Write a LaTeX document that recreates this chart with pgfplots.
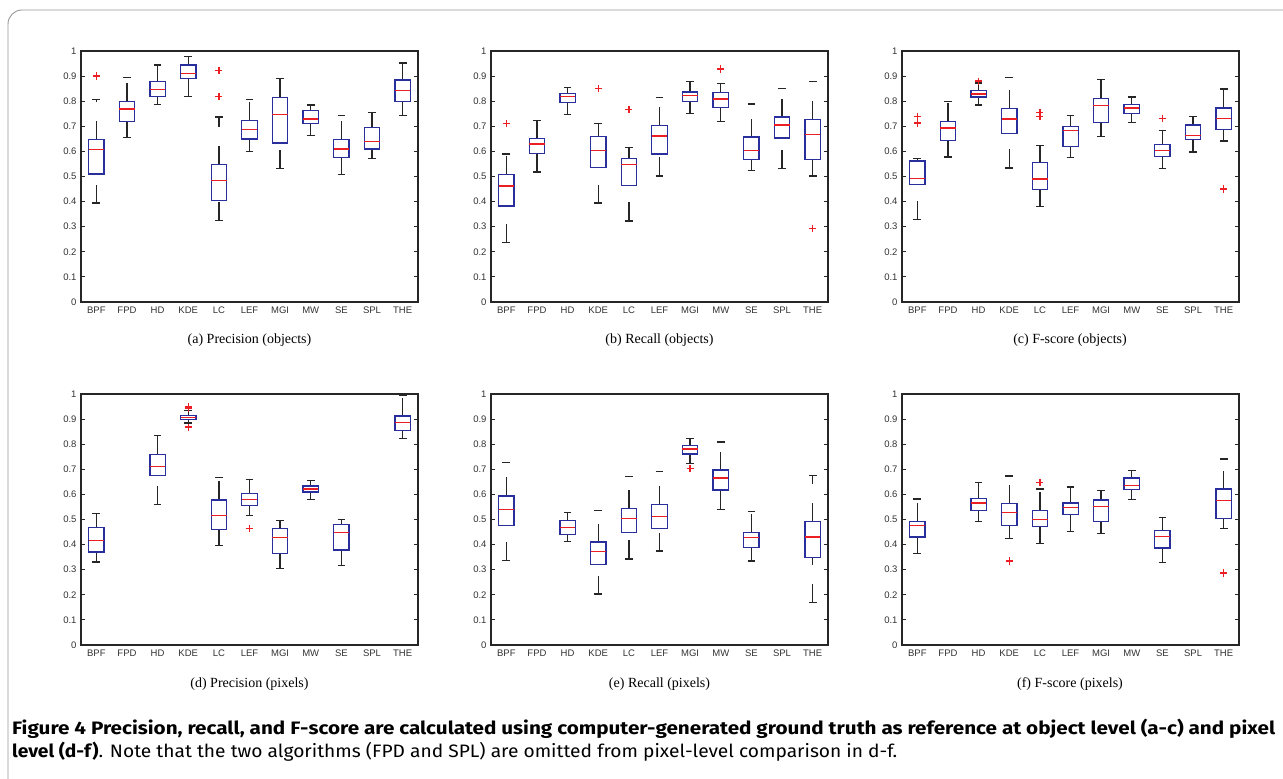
\documentclass[border=0pt]{standalone}
\usepackage{fontspec}
\setmainfont{Liberation Serif}
\newfontfamily\helv{Liberation Sans}
\newfontfamily\capfont{Fira Sans}
\usepackage{graphicx}
\usepackage{pgfplots}
\pgfplotsset{compat=1.18}
\usepgfplotslibrary{statistics}

\definecolor{boxblue}{RGB}{40,46,155}
\definecolor{medred}{RGB}{235,30,35}
\definecolor{framegray}{RGB}{150,150,150}
\definecolor{ticktext}{RGB}{50,50,50}

\pgfplotsset{
  panel/.style={
    scale only axis, width=337pt, height=251pt,
    anchor=south west,
    xmin=0.5, xmax=11.5, ymin=0, ymax=1,
    xtick={1,2,3,4,5,6,7,8,9,10,11},
    xticklabels={BPF,FPD,HD,KDE,LC,LEF,MGI,MW,SE,SPL,THE},
    ytick={0,0.1,0.2,0.3,0.4,0.5,0.6,0.7,0.8,0.9,1},
    yticklabels={0,0.1,0.2,0.3,0.4,0.5,0.6,0.7,0.8,0.9,1},
    axis line style={line width=1.6pt, black!85},
    tick align=inside,
    major tick length=4pt,
    ytick style={line width=1pt, black!85},
    xtick style={draw=none},
    tick label style={font=\helv\fontsize{9.5}{10}\selectfont, text=ticktext},
    yticklabel style={xshift=-1pt},
    xticklabel style={yshift=-1pt},
  },
  mw/.style={
    medred, mark=+, mark size=3.6pt, line width=1.4pt,
    boxplot/draw direction=y,
    boxplot/box extend=0.5,
    boxplot/every box/.style={draw=boxblue, line width=1.3pt},
    boxplot/every median/.style={draw=medred, line width=1.3pt},
    boxplot/draw/lower whisker/.code={%
      \draw[black!85, line width=1.3pt, dash pattern=on 18.5pt off 19pt]
        (boxplot box cs:\pgfplotsboxplotvalue{lower whisker},0.5) --
        (boxplot box cs:\pgfplotsboxplotvalue{lower quartile},0.5);
      \draw[black!85, line width=1.3pt]
        (boxplot box cs:\pgfplotsboxplotvalue{lower whisker},0.25) --
        (boxplot box cs:\pgfplotsboxplotvalue{lower whisker},0.75);
    },
    boxplot/draw/upper whisker/.code={%
      \draw[black!85, line width=1.3pt, dash pattern=on 18.5pt off 19pt]
        (boxplot box cs:\pgfplotsboxplotvalue{upper quartile},0.5) --
        (boxplot box cs:\pgfplotsboxplotvalue{upper whisker},0.5);
      \draw[black!85, line width=1.3pt]
        (boxplot box cs:\pgfplotsboxplotvalue{upper whisker},0.25) --
        (boxplot box cs:\pgfplotsboxplotvalue{upper whisker},0.75);
    },
  },
}

% position, lower whisker, lower quartile, median, upper quartile, upper whisker, outliers
\newcommand{\bp}[7]{%
  \addplot[mw, boxplot prepared={draw position=#1, lower whisker=#2,
    lower quartile=#3, median=#4, upper quartile=#5, upper whisker=#6}]
    coordinates {#7};}

\newsavebox\capA
\newsavebox\capB
\newlength\capw
\newlength\capwb

\begin{document}
\sbox\capA{\capfont\fontsize{18}{22}\selectfont\bfseries Figure 4 Precision, recall, and F-score are calculated using computer-generated ground truth as reference at object level (a-c) and pixel}%
\sbox\capB{\capfont\fontsize{18}{22}\selectfont{\bfseries level (d-f)}. Note that the two algorithms (FPD and SPL) are omitted from pixel-level comparison in d-f.}%
\setlength\capw{\wd\capA}%
\setlength\capwb{\wd\capB}%
\pgfmathsetmacro\capscale{1263pt/\capw}%
\pgfmathsetmacro\capscaleb{885pt/\capwb}%
\begin{tikzpicture}
\path[use as bounding box] (0,0) rectangle (1283pt,779pt);
\draw[framegray, line width=0.9pt] (8pt,-2pt) -- (8pt,755pt)
  arc[start angle=180, end angle=90, radius=14pt] -- (1290pt,769pt);

% (a) Precision (objects)
\begin{axis}[panel, at={(81pt,477pt)}]
\bp{1}{0.394}{0.510}{0.608}{0.646}{0.806}{(0,0.900)}
\bp{2}{0.656}{0.718}{0.769}{0.798}{0.895}{}
\bp{3}{0.786}{0.819}{0.847}{0.879}{0.944}{}
\bp{4}{0.819}{0.891}{0.910}{0.944}{0.979}{}
\bp{5}{0.325}{0.405}{0.485}{0.548}{0.737}{(0,0.923) (0,0.819)}
\bp{6}{0.600}{0.649}{0.687}{0.722}{0.806}{}
\bp{7}{0.533}{0.633}{0.748}{0.814}{0.891}{}
\bp{8}{0.663}{0.712}{0.729}{0.762}{0.785}{}
\bp{9}{0.509}{0.576}{0.610}{0.648}{0.744}{}
\bp{10}{0.572}{0.610}{0.640}{0.696}{0.756}{}
\bp{11}{0.744}{0.799}{0.842}{0.884}{0.952}{}
\end{axis}

% (b) Recall (objects)
\begin{axis}[panel, at={(491pt,477pt)}]
\bp{1}{0.236}{0.382}{0.462}{0.507}{0.590}{(0,0.710)}
\bp{2}{0.518}{0.591}{0.630}{0.651}{0.724}{}
\bp{3}{0.748}{0.795}{0.818}{0.830}{0.855}{}
\bp{4}{0.394}{0.537}{0.603}{0.660}{0.710}{(0,0.851)}
\bp{5}{0.323}{0.465}{0.547}{0.572}{0.616}{(0,0.766)}
\bp{6}{0.502}{0.590}{0.661}{0.704}{0.815}{}
\bp{7}{0.752}{0.799}{0.822}{0.837}{0.879}{}
\bp{8}{0.720}{0.774}{0.809}{0.834}{0.870}{(0,0.928)}
\bp{9}{0.525}{0.568}{0.603}{0.657}{0.789}{}
\bp{10}{0.533}{0.653}{0.705}{0.737}{0.851}{}
\bp{11}{0.502}{0.567}{0.668}{0.726}{0.879}{(0,0.293)}
\end{axis}

% (c) F-score (objects)
\begin{axis}[panel, at={(902pt,477pt)}]
\bp{1}{0.328}{0.469}{0.491}{0.562}{0.572}{(0,0.738) (0,0.713)}
\bp{2}{0.578}{0.644}{0.693}{0.718}{0.799}{}
\bp{3}{0.785}{0.817}{0.829}{0.842}{0.872}{(0,0.880)}
\bp{4}{0.534}{0.671}{0.729}{0.772}{0.895}{}
\bp{5}{0.381}{0.448}{0.490}{0.555}{0.624}{(0,0.754) (0,0.740)}
\bp{6}{0.575}{0.620}{0.683}{0.699}{0.742}{}
\bp{7}{0.660}{0.714}{0.784}{0.811}{0.887}{}
\bp{8}{0.714}{0.750}{0.773}{0.788}{0.817}{}
\bp{9}{0.533}{0.580}{0.604}{0.628}{0.684}{(0,0.732)}
\bp{10}{0.598}{0.648}{0.663}{0.705}{0.738}{}
\bp{11}{0.641}{0.687}{0.730}{0.773}{0.849}{(0,0.450)}
\end{axis}

% (d) Precision (pixels)
\begin{axis}[panel, at={(81pt,134pt)}]
\bp{1}{0.331}{0.371}{0.415}{0.467}{0.524}{}
\bp{3}{0.561}{0.674}{0.710}{0.758}{0.836}{}
\bp{4}{0.884}{0.898}{0.906}{0.914}{0.935}{(0,0.948) (0,0.942) (0,0.868)}
\bp{5}{0.396}{0.461}{0.515}{0.578}{0.666}{}
\bp{6}{0.517}{0.556}{0.580}{0.604}{0.658}{(0,0.465)}
\bp{7}{0.305}{0.364}{0.428}{0.463}{0.497}{}
\bp{8}{0.581}{0.610}{0.622}{0.634}{0.654}{}
\bp{9}{0.316}{0.379}{0.447}{0.479}{0.500}{}
\bp{11}{0.824}{0.854}{0.886}{0.912}{0.996}{}
\end{axis}

% (e) Recall (pixels)
\begin{axis}[panel, at={(491pt,134pt)}]
\bp{1}{0.336}{0.477}{0.541}{0.594}{0.727}{}
\bp{3}{0.412}{0.440}{0.468}{0.496}{0.528}{}
\bp{4}{0.203}{0.322}{0.372}{0.410}{0.536}{}
\bp{5}{0.343}{0.447}{0.504}{0.543}{0.670}{}
\bp{6}{0.374}{0.464}{0.511}{0.560}{0.690}{}
\bp{7}{0.722}{0.761}{0.781}{0.794}{0.822}{(0,0.702)}
\bp{8}{0.541}{0.617}{0.665}{0.697}{0.809}{}
\bp{9}{0.335}{0.388}{0.428}{0.448}{0.533}{}
\bp{11}{0.169}{0.348}{0.430}{0.491}{0.674}{}
\end{axis}

% (f) F-score (pixels)
\begin{axis}[panel, at={(902pt,134pt)}]
\bp{1}{0.364}{0.430}{0.476}{0.492}{0.582}{}
\bp{3}{0.491}{0.536}{0.566}{0.585}{0.648}{}
\bp{4}{0.423}{0.477}{0.528}{0.564}{0.673}{(0,0.335)}
\bp{5}{0.404}{0.471}{0.500}{0.536}{0.622}{(0,0.648)}
\bp{6}{0.453}{0.521}{0.548}{0.566}{0.630}{}
\bp{7}{0.444}{0.493}{0.551}{0.578}{0.616}{}
\bp{8}{0.581}{0.620}{0.636}{0.665}{0.695}{}
\bp{9}{0.330}{0.387}{0.432}{0.455}{0.507}{}
\bp{11}{0.465}{0.504}{0.577}{0.621}{0.741}{(0,0.287)}
\end{axis}

% sub-captions
\begin{scope}[every node/.style={font=\fontsize{14}{16}\selectfont}]
\node at (249.5pt,439pt) {(a) Precision (objects)};
\node at (659.5pt,439pt) {(b) Recall (objects)};
\node at (1070pt,439pt) {(c) F-score (objects)};
\node at (249.5pt,95pt) {(d) Precision (pixels)};
\node at (659.5pt,95pt) {(e) Recall (pixels)};
\node at (1070pt,95pt) {(f) F-score (pixels)};
\end{scope}

% figure caption
\node[anchor=base west, inner sep=0pt] at (12pt,44pt) {\scalebox{\capscale}[1]{\usebox\capA}};
\node[anchor=base west, inner sep=0pt] at (12pt,21pt) {\scalebox{\capscaleb}[1]{\usebox\capB}};
\end{tikzpicture}
\end{document}
